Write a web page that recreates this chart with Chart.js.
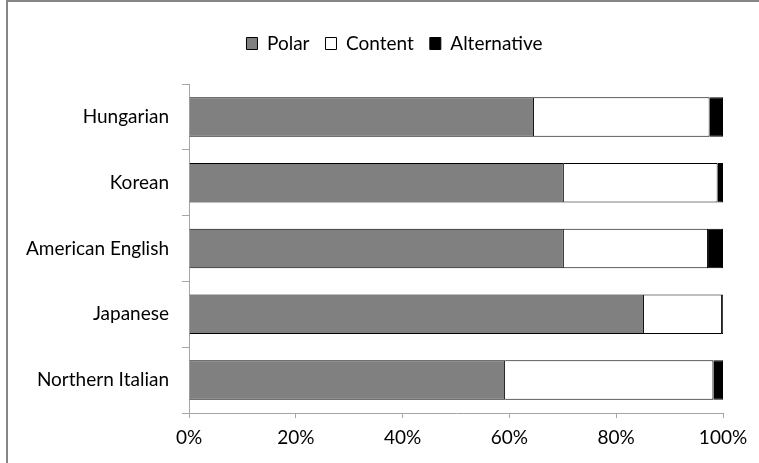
<!DOCTYPE html>
<html><head><meta charset="utf-8">
<script src="https://cdn.jsdelivr.net/npm/chart.js@4"></script>
<style>html,body{margin:0;padding:0;background:#fff;} #wrap{position:relative;width:759px;height:463px;}</style>
</head><body><div id="wrap"><canvas id="c" width="759" height="463"></canvas></div>
<script>
const categories = ['Hungarian', 'Korean', 'American English', 'Japanese', 'Northern Italian'];
const polar = [64.6, 70.2, 70.2, 85.2, 59.2];
const content = [32.9, 28.8, 27.0, 14.6, 39.0];
const alternative = [2.5, 1.0, 2.8, 0.2, 1.8];
const xTickStep = 20;
const xMin = 0, xMax = 100;

const FONT = 'Lato';
const framePlugin = {
  id: 'frame',
  beforeDraw(chart) {
    const ctx = chart.ctx;
    ctx.save();
    ctx.fillStyle = '#fff';
    ctx.fillRect(0, 0, chart.width, chart.height);
    ctx.strokeStyle = '#868686';
    ctx.lineWidth = 2;
    ctx.beginPath();
    ctx.moveTo(7, chart.height + 2);
    ctx.lineTo(7, 1);
    ctx.lineTo(chart.width + 2, 1);
    ctx.stroke();
    ctx.restore();
  }
};
const legendTweak = {
  id: 'legendTweak',
  afterInit(chart) {
    const lg = chart.legend;
    if (!lg) return;
    const f = lg.fit;
    lg.fit = function () { f.call(this); this.height = 66; };
    const d = lg.draw;
    lg.draw = function () {
      const ctx = this.ctx;
      ctx.save();
      ctx.translate(29, 0);
      d.call(this);
      ctx.restore();
    };
  }
};

new Chart(document.getElementById('c'), {
  type: 'bar',
  data: {
    labels: categories,
    datasets: [
      { label: 'Polar', data: polar, backgroundColor: '#808080', borderColor: '#000', borderWidth: 1 },
      { label: 'Content', data: content, backgroundColor: '#ffffff', borderColor: '#000', borderWidth: 1 },
      { label: 'Alternative', data: alternative, backgroundColor: '#000000', borderColor: '#000', borderWidth: 1 }
    ]
  },
  options: {
    indexAxis: 'y',
    responsive: false,
    animation: false,
    devicePixelRatio: 1,
    categoryPercentage: 0.6,
    barPercentage: 1.0,
    layout: { padding: { top: 18, left: 8, right: 36, bottom: 0 } },
    plugins: {
      tooltip: { enabled: false },
      legend: {
        position: 'top',
        labels: { boxWidth: 11, boxHeight: 12, padding: 16, color: '#000', font: { family: FONT, size: 19 } }
      }
    },
    scales: {
      x: {
        stacked: true,
        min: xMin, max: xMax,
        afterFit(s) { s.height = 50; },
        ticks: { stepSize: xTickStep, callback: v => v + '%', color: '#000', padding: 8, font: { family: FONT, size: 19 } },
        grid: { drawOnChartArea: false, tickLength: 5, color: '#a6a6a6' },
        border: { color: '#a6a6a6' }
      },
      y: {
        stacked: true,
        afterFit(s) { s.width = 181; },
        ticks: { color: '#000', padding: 13, font: { family: FONT, size: 19 } },
        grid: { drawOnChartArea: false, tickLength: 7, color: '#a6a6a6', offset: true },
        border: { color: '#a6a6a6' }
      }
    }
  },
  plugins: [framePlugin, legendTweak]
});
</script></body></html>
